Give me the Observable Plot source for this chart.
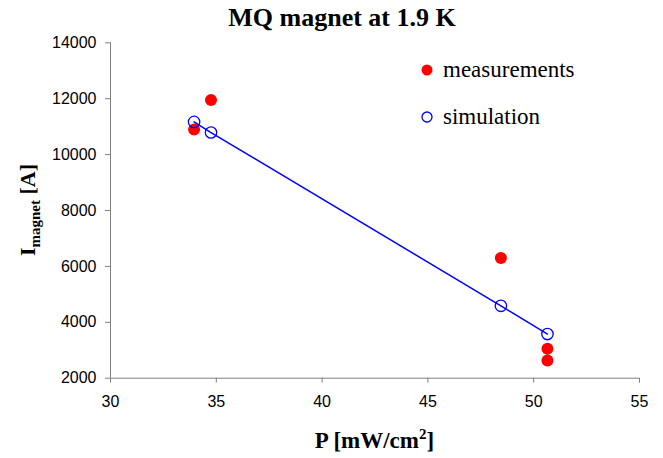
<!DOCTYPE html>
<html>
<head>
<meta charset="utf-8">
<script src="https://cdn.jsdelivr.net/npm/d3@7"></script>
<script src="https://cdn.jsdelivr.net/npm/@observablehq/plot@0.6"></script>
<style>
  html, body { margin: 0; padding: 0; background: #fff; }
  #wrap { position: relative; width: 663px; height: 458px; overflow: hidden; }
  #title { position: relative; height: 30px; }
  #title span { position: absolute; left: 342px; top: 4px; transform: translateX(-50%);
    font-family: "Liberation Serif", "Times New Roman", serif; font-weight: bold; font-size: 26px;
    line-height: 28px; white-space: nowrap; color: #000; }
</style>
</head>
<body>
<div id="wrap">
  <div id="title"><span>MQ magnet at 1.9 K</span></div>
  <div id="chart"></div>
</div>
<script>
// ---- data ----
const measP = [33.95, 34.75, 48.45, 50.65, 50.65];
const measI = [10900, 11950, 6300, 3050, 2630];
const simP = [33.95, 34.75, 48.45, 50.65];
const simI = [11170, 10790, 4590, 3580];
const xTicks = [30, 35, 40, 45, 50, 55];
const yTicks = [2000, 4000, 6000, 8000, 10000, 12000, 14000];
const seriesNames = ["measurements", "simulation"];
const titleText = "MQ magnet at 1.9 K";

const meas = measP.map((p, i) => ({p, I: measI[i]}));
const sim = simP.map((p, i) => ({p, I: simI[i]}));

const W = 663, H = 428;
const axisColor = "#808080";
const tickFont = "Liberation Sans, Arial, sans-serif";

const plot = Plot.plot({
  width: W,
  height: H,
  marginLeft: 110,
  marginRight: 24,
  marginTop: 12.3,
  marginBottom: 80.3,
  x: {domain: [30, 55]},
  y: {domain: [2000, 14000]},
  style: {background: "#fff", overflow: "visible"},
  marks: [
    Plot.axisX({ticks: xTicks, tickSize: 5, tickPadding: 12, stroke: axisColor, fontSize: 16, fill: "#000", label: null, fontFamily: tickFont}),
    Plot.axisY({ticks: yTicks, tickSize: 5, tickPadding: 9, stroke: axisColor, fontSize: 16, fill: "#000", label: null, tickFormat: d => String(d), fontFamily: tickFont}),
    Plot.ruleX([30], {stroke: axisColor, strokeWidth: 1}),
    Plot.ruleY([2000], {stroke: axisColor, strokeWidth: 1}),
    Plot.dot(meas, {x: "p", y: "I", r: 6, fill: "#ff0000", stroke: "none"}),
    Plot.line(sim, {x: "p", y: "I", stroke: "#0000ff", strokeWidth: 1.5}),
    Plot.dot(sim, {x: "p", y: "I", r: 5.7, fill: "none", stroke: "#0000ff", strokeWidth: 1.3})
  ]
});
document.getElementById("title").querySelector("span").textContent = titleText;
document.getElementById("chart").appendChild(plot);

const svg = d3.select(plot);
const serif = "Liberation Serif, Times New Roman, serif";

// x axis label
const xl = svg.append("text")
  .attr("x", 374.5).attr("y", 418)
  .attr("text-anchor", "middle")
  .attr("font-family", serif).attr("font-weight", "bold").attr("font-size", 23).attr("fill", "#000");
xl.append("tspan").text("P [mW/cm");
xl.append("tspan").attr("font-size", 15).attr("dy", -9).text("2");
xl.append("tspan").attr("dy", 9).text("]");

// y axis label
const yl = svg.append("text")
  .attr("transform", "translate(35," + 180 + ") rotate(-90)")
  .attr("text-anchor", "middle")
  .attr("font-family", serif).attr("font-weight", "bold").attr("font-size", 22).attr("fill", "#000");
yl.append("tspan").text("I");
yl.append("tspan").attr("font-size", 15).attr("dy", 5).text("magnet");
yl.append("tspan").attr("dy", -5).text(" [A]");

// legend
const leg = svg.append("g").attr("font-family", serif).attr("font-size", 23).attr("text-anchor", "start");
seriesNames.forEach((name, i) => {
  const cy = 40 + i * 47;
  if (i === 0) {
    leg.append("circle").attr("cx", 427).attr("cy", cy).attr("r", 5.5).attr("fill", "#ff0000");
  } else {
    leg.append("circle").attr("cx", 427).attr("cy", cy).attr("r", 5).attr("fill", "none").attr("stroke", "#0000ff").attr("stroke-width", 1.3);
  }
  leg.append("text").attr("x", 443).attr("y", cy + 7).attr("text-anchor", "start").attr("fill", "#000").text(name);
});
</script>
</body>
</html>
